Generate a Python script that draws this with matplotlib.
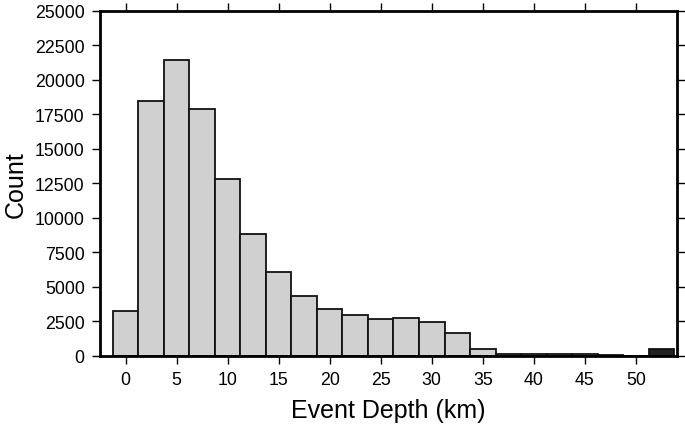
import matplotlib
matplotlib.use("Agg")
import matplotlib.pyplot as plt
import numpy as np

# depth histogram, bins 2.5 km wide centred on multiples of 2.5
bin_centers = [0, 2.5, 5, 7.5, 10, 12.5, 15, 17.5, 20, 22.5, 25, 27.5,
               30, 32.5, 35, 37.5, 40, 42.5, 45, 47.5, 50, 52.5]
counts = [3260, 18440, 21480, 17860, 12790, 8850, 6120, 4350, 3420, 3000,
          2650, 2760, 2450, 1630, 500, 170, 170, 170, 170, 90, 0, 540]
# last bin collects everything deeper
bar_colors = ["#d0d0d0"] * (len(counts) - 1) + ["#222222"]

xticks = [0, 5, 10, 15, 20, 25, 30, 35, 40, 45, 50]
yticks = [0, 2500, 5000, 7500, 10000, 12500, 15000, 17500, 20000, 22500, 25000]

plt.rcParams["font.family"] = ["Liberation Sans", "DejaVu Sans"]

fig = plt.figure(figsize=(6.85, 4.27), dpi=100)
ax = fig.add_axes([0.146, 0.164, 0.842, 0.808])

ax.bar(bin_centers, counts, width=2.5, color=bar_colors,
       edgecolor="#111111", linewidth=1.3)

ax.set_xlim(-2.5, 54)
ax.set_ylim(0, 25000)
ax.set_xticks(xticks)
ax.set_yticks(yticks)

for side in ["left", "right", "top", "bottom"]:
    ax.spines[side].set_linewidth(2)
ax.tick_params(axis="both", direction="out", length=6, width=1,
               labelsize=12.8, top=True, right=True, pad=5)

ax.set_xlabel("Event Depth (km)", fontsize=18, labelpad=7)
ax.set_ylabel("Count", fontsize=18, labelpad=5)

fig.savefig("out.png", dpi=100)
